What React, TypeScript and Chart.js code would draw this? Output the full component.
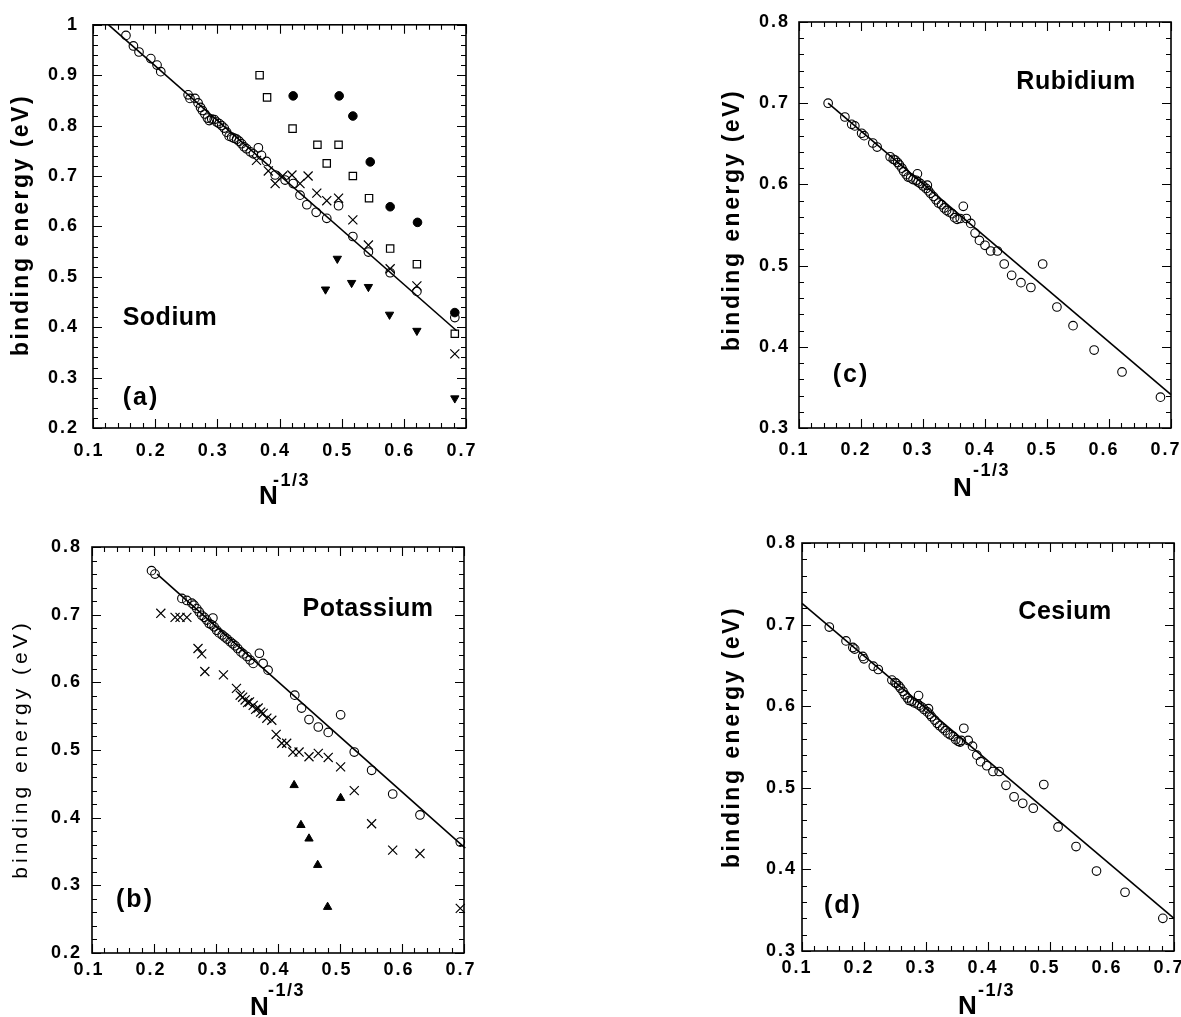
import React, { useEffect, useRef } from "react";
import { Chart, registerables } from "chart.js";

Chart.register(...registerables);

type Pt = [number, number];

// ---------- tick labels ----------
const xTickValues = [0.1, 0.2, 0.3, 0.4, 0.5, 0.6, 0.7];
const xTickLabels = ["0.1", "0.2", "0.3", "0.4", "0.5", "0.6", "0.7"];
const yTickValuesA = [0.2, 0.3, 0.4, 0.5, 0.6, 0.7, 0.8, 0.9, 1.0];
const yTickLabelsA = ["0.2", "0.3", "0.4", "0.5", "0.6", "0.7", "0.8", "0.9", "1"];
const yTickValuesB = [0.2, 0.3, 0.4, 0.5, 0.6, 0.7, 0.8];
const yTickLabelsB = ["0.2", "0.3", "0.4", "0.5", "0.6", "0.7", "0.8"];
const yTickValuesCD = [0.3, 0.4, 0.5, 0.6, 0.7, 0.8];
const yTickLabelsCD = ["0.3", "0.4", "0.5", "0.6", "0.7", "0.8"];

// ---------- (a) Sodium ----------
const sodiumCircles: Pt[] = [
  [0.153, 0.979], [0.165, 0.958], [0.174, 0.946], [0.193, 0.933], [0.203, 0.92], [0.209, 0.907],
  [0.253, 0.861], [0.256, 0.854], [0.264, 0.854],
  [0.269, 0.845], [0.273, 0.836], [0.276, 0.83], [0.28, 0.823], [0.284, 0.815], [0.287, 0.81],
  [0.291, 0.813], [0.295, 0.812], [0.299, 0.807], [0.303, 0.804], [0.307, 0.8], [0.311, 0.795],
  [0.315, 0.787], [0.319, 0.779], [0.323, 0.777], [0.327, 0.775], [0.331, 0.773], [0.335, 0.769],
  [0.339, 0.764], [0.343, 0.758], [0.347, 0.754], [0.353, 0.748], [0.358, 0.744],
  [0.366, 0.756], [0.371, 0.741], [0.379, 0.729], [0.393, 0.702], [0.409, 0.692], [0.422, 0.685],
  [0.433, 0.662], [0.444, 0.643], [0.459, 0.628], [0.476, 0.616], [0.495, 0.641], [0.518, 0.58],
  [0.543, 0.549], [0.578, 0.508], [0.621, 0.471], [0.682, 0.419],
];
const sodiumCrosses: Pt[] = [
  [0.363, 0.731], [0.382, 0.71], [0.393, 0.685], [0.405, 0.7], [0.42, 0.702], [0.433, 0.685],
  [0.446, 0.7], [0.46, 0.666], [0.476, 0.651], [0.495, 0.656], [0.518, 0.613], [0.543, 0.563],
  [0.578, 0.516], [0.621, 0.482], [0.682, 0.347],
];
const sodiumSquares: Pt[] = [
  [0.368, 0.9], [0.38, 0.856], [0.421, 0.794], [0.461, 0.762], [0.495, 0.762], [0.476, 0.725],
  [0.518, 0.7], [0.544, 0.656], [0.578, 0.556], [0.621, 0.525], [0.682, 0.387],
];
const sodiumDots: Pt[] = [
  [0.422, 0.859], [0.496, 0.859], [0.518, 0.819], [0.546, 0.728], [0.578, 0.639], [0.622, 0.608],
  [0.682, 0.429],
];
const sodiumTriangles: Pt[] = [
  [0.474, 0.475], [0.493, 0.536], [0.516, 0.488], [0.543, 0.48], [0.577, 0.425], [0.621, 0.393],
  [0.682, 0.259],
];
const sodiumFit: Pt[] = [[0.125, 1.0], [0.685, 0.393]];

// ---------- (b) Potassium ----------
const potassiumCircles: Pt[] = [
  [0.196, 0.765], [0.2016, 0.76], [0.245, 0.724], [0.253, 0.721], [0.261, 0.717],
  [0.2645, 0.714], [0.269, 0.709], [0.273, 0.704], [0.277, 0.699], [0.281, 0.696], [0.285, 0.692],
  [0.289, 0.687], [0.293, 0.685], [0.297, 0.682], [0.301, 0.677], [0.305, 0.673], [0.31, 0.67],
  [0.314, 0.667], [0.318, 0.664], [0.323, 0.66], [0.327, 0.657], [0.331, 0.654], [0.335, 0.65],
  [0.34, 0.645], [0.344, 0.642], [0.35, 0.638], [0.355, 0.633], [0.36, 0.628],
  [0.295, 0.695], [0.37, 0.643], [0.376, 0.628], [0.384, 0.618], [0.427, 0.581], [0.438, 0.562],
  [0.45, 0.545], [0.465, 0.534], [0.481, 0.526], [0.501, 0.552], [0.523, 0.497], [0.551, 0.47],
  [0.585, 0.435], [0.629, 0.404], [0.694, 0.364],
];
const potassiumCrosses: Pt[] = [
  [0.211, 0.702], [0.234, 0.696], [0.242, 0.696], [0.253, 0.696], [0.271, 0.65], [0.277, 0.642],
  [0.282, 0.616], [0.312, 0.611], [0.333, 0.591], [0.339, 0.581], [0.343, 0.578], [0.347, 0.574],
  [0.351, 0.57], [0.354, 0.571], [0.36, 0.566], [0.364, 0.56], [0.368, 0.562], [0.372, 0.556],
  [0.376, 0.554], [0.382, 0.547], [0.39, 0.544], [0.397, 0.523], [0.406, 0.51], [0.414, 0.51],
  [0.424, 0.497], [0.434, 0.497], [0.45, 0.49], [0.465, 0.495], [0.481, 0.489], [0.501, 0.475],
  [0.523, 0.44], [0.551, 0.391], [0.585, 0.352], [0.629, 0.347], [0.694, 0.266],
];
const potassiumTriangles: Pt[] = [
  [0.426, 0.448], [0.501, 0.429], [0.437, 0.389], [0.45, 0.369], [0.464, 0.33], [0.48, 0.268],
];
const potassiumFit: Pt[] = [[0.205, 0.76], [0.702, 0.355]];

// ---------- (c) Rubidium ----------
const rubidiumCircles: Pt[] = [
  [0.147, 0.7], [0.174, 0.683], [0.185, 0.674], [0.19, 0.672], [0.201, 0.663], [0.205, 0.66],
  [0.219, 0.651], [0.226, 0.646], [0.247, 0.634], [0.252, 0.631],
  [0.255, 0.63], [0.259, 0.627], [0.262, 0.624], [0.266, 0.62], [0.269, 0.616], [0.273, 0.612],
  [0.276, 0.609], [0.28, 0.608], [0.284, 0.606], [0.289, 0.605], [0.292, 0.603], [0.296, 0.601],
  [0.3, 0.598], [0.305, 0.595], [0.309, 0.592], [0.312, 0.589], [0.317, 0.585], [0.321, 0.581],
  [0.325, 0.577], [0.33, 0.575], [0.334, 0.571], [0.338, 0.568], [0.342, 0.566], [0.347, 0.564],
  [0.351, 0.559], [0.355, 0.557], [0.36, 0.558],
  [0.291, 0.613], [0.307, 0.599], [0.365, 0.573], [0.37, 0.558], [0.377, 0.552], [0.384, 0.54],
  [0.391, 0.531], [0.4, 0.525], [0.409, 0.518], [0.42, 0.518], [0.431, 0.502], [0.443, 0.488],
  [0.458, 0.479], [0.474, 0.473], [0.493, 0.502], [0.516, 0.449], [0.542, 0.426], [0.576, 0.396],
  [0.621, 0.369], [0.683, 0.338],
];
const rubidiumFit: Pt[] = [[0.147, 0.7], [0.7, 0.341]];

// ---------- (d) Cesium ----------
const cesiumCircles: Pt[] = [
  [0.144, 0.697], [0.171, 0.68], [0.182, 0.672], [0.185, 0.67], [0.198, 0.661], [0.2, 0.658],
  [0.215, 0.649], [0.223, 0.645], [0.245, 0.632], [0.25, 0.629],
  [0.252, 0.628], [0.256, 0.625], [0.259, 0.622], [0.263, 0.618], [0.266, 0.614], [0.27, 0.61],
  [0.273, 0.607], [0.277, 0.606], [0.281, 0.604], [0.286, 0.603], [0.289, 0.601], [0.293, 0.599],
  [0.297, 0.596], [0.302, 0.593], [0.306, 0.59], [0.309, 0.587], [0.314, 0.583], [0.318, 0.579],
  [0.322, 0.576], [0.327, 0.573], [0.331, 0.57], [0.335, 0.567], [0.339, 0.565], [0.344, 0.563],
  [0.348, 0.559], [0.352, 0.557], [0.357, 0.558],
  [0.288, 0.613], [0.304, 0.597], [0.361, 0.573], [0.355, 0.556], [0.368, 0.558], [0.375, 0.551],
  [0.382, 0.54], [0.388, 0.532], [0.398, 0.527], [0.408, 0.52], [0.418, 0.52], [0.429, 0.503],
  [0.442, 0.489], [0.456, 0.481], [0.473, 0.475], [0.49, 0.504], [0.513, 0.452], [0.542, 0.428],
  [0.575, 0.398], [0.621, 0.372], [0.682, 0.34],
];
const cesiumFit: Pt[] = [[0.1, 0.726], [0.7, 0.34]];

// ---------- styling helpers ----------
const FAMILY = '"Liberation Sans", Arial, Helvetica, sans-serif';
const toXY = (pts: Pt[]) => pts.map(([x, y]) => ({ x, y }));

const openCircles = (pts: Pt[]) => ({
  data: toXY(pts), pointStyle: "circle", pointRadius: 4.3, pointBorderWidth: 1.1,
  borderColor: "#000", backgroundColor: "rgba(0,0,0,0)", showLine: false,
});
const crosses = (pts: Pt[]) => ({
  data: toXY(pts), pointStyle: "crossRot", pointRadius: 6.4, pointBorderWidth: 1.2,
  borderColor: "#000", backgroundColor: "#000", showLine: false,
});
const squares = (pts: Pt[]) => ({
  data: toXY(pts), pointStyle: "rect", pointRadius: 5.2, pointBorderWidth: 1.2,
  borderColor: "#000", backgroundColor: "rgba(0,0,0,0)", showLine: false,
});
const dots = (pts: Pt[]) => ({
  data: toXY(pts), pointStyle: "circle", pointRadius: 4.3, pointBorderWidth: 1,
  borderColor: "#000", backgroundColor: "#000", showLine: false,
});
const triangles = (pts: Pt[], down: boolean) => ({
  data: toXY(pts), pointStyle: "triangle", pointRotation: down ? 180 : 0, pointRadius: 4.8,
  pointBorderWidth: 1, borderColor: "#000", backgroundColor: "#000", showLine: false,
});
const fitLine = (pts: Pt[]) => ({
  data: toXY(pts), showLine: true, pointRadius: 0, borderColor: "#000", borderWidth: 1.6,
  backgroundColor: "#000", fill: false,
});

interface Spec {
  key: string;
  box: { left: number; top: number; width: number; height: number };
  plot: { x0: number; x1: number; y0: number; y1: number };
  yMin: number; yMax: number; yTicks: number[]; yLabels: string[];
  yTickPad: number; xTickPad: number; xLabelShift: number;
  datasets: any[];
  name: string; nameAt: [number, number];
  tag: string; tagAt: [number, number];
  yTitle: { x: number; y: number; font: string; spacing: number };
  nAt: [number, number]; supAt: [number, number];
}

const specs: Spec[] = [
  {
    key: "a",
    box: { left: 0, top: 0, width: 500, height: 520 },
    plot: { x0: 93, x1: 466, y0: 22, y1: 428 },
    yMin: 0.2, yMax: 1.0, yTicks: yTickValuesA, yLabels: yTickLabelsA,
    yTickPad: 14, xTickPad: 12, xLabelShift: -4,
    datasets: [
      triangles(sodiumTriangles, true), dots(sodiumDots), squares(sodiumSquares),
      crosses(sodiumCrosses), openCircles(sodiumCircles), fitLine(sodiumFit),
    ],
    name: "Sodium", nameAt: [170, 318], tag: "(a)", tagAt: [141, 398],
    yTitle: { x: 22, y: 225, font: `bold 23px ${FAMILY}`, spacing: 2.5 },
    nAt: [259, 497], supAt: [273, 481],
  },
  {
    key: "b",
    box: { left: 0, top: 520, width: 500, height: 497 },
    plot: { x0: 92, x1: 464, y0: 547, y1: 953 },
    yMin: 0.2, yMax: 0.8, yTicks: yTickValuesB, yLabels: yTickLabelsB,
    yTickPad: 10, xTickPad: 6, xLabelShift: -3,
    datasets: [
      triangles(potassiumTriangles, false), crosses(potassiumCrosses),
      openCircles(potassiumCircles), fitLine(potassiumFit),
    ],
    name: "Potassium", nameAt: [368, 609], tag: "(b)", tagAt: [135, 900],
    yTitle: { x: 21, y: 749, font: `21px ${FAMILY}`, spacing: 4 },
    nAt: [250, 1008], supAt: [268, 991],
  },
  {
    key: "c",
    box: { left: 700, top: 0, width: 500, height: 520 },
    plot: { x0: 799, x1: 1171, y0: 22, y1: 428 },
    yMin: 0.3, yMax: 0.8, yTicks: yTickValuesCD, yLabels: yTickLabelsCD,
    yTickPad: 9, xTickPad: 11, xLabelShift: -5,
    datasets: [openCircles(rubidiumCircles), fitLine(rubidiumFit)],
    name: "Rubidium", nameAt: [1076, 82], tag: "(c)", tagAt: [851, 375],
    yTitle: { x: 733, y: 220, font: `bold 23px ${FAMILY}`, spacing: 2.5 },
    nAt: [953, 489], supAt: [973, 471],
  },
  {
    key: "d",
    box: { left: 700, top: 520, width: 500, height: 497 },
    plot: { x0: 802, x1: 1174, y0: 543, y1: 951 },
    yMin: 0.3, yMax: 0.8, yTicks: yTickValuesCD, yLabels: yTickLabelsCD,
    yTickPad: 5, xTickPad: 6, xLabelShift: -5,
    datasets: [openCircles(cesiumCircles), fitLine(cesiumFit)],
    name: "Cesium", nameAt: [1065, 612], tag: "(d)", tagAt: [843, 906],
    yTitle: { x: 733, y: 737, font: `bold 23px ${FAMILY}`, spacing: 2.5 },
    nAt: [958, 1007], supAt: [978, 991],
  },
];

function buildConfig(s: Spec): any {
  const { box, plot } = s;
  const decor = {
    id: "decor_" + s.key,
    beforeDraw(chart: any) {
      const ctx = chart.ctx as any;
      ctx.letterSpacing = "2px";
    },
    afterDraw(chart: any) {
      const ctx = chart.ctx as any;
      const { left, right, top, bottom } = chart.chartArea;
      const xs = chart.scales.x;
      const ys = chart.scales.y;
      ctx.save();
      ctx.letterSpacing = "0px";
      ctx.strokeStyle = "#000";
      ctx.lineWidth = 1.1;
      ctx.beginPath();
      for (let i = 0; ; i++) {
        const v = 0.1 + i * 0.02;
        if (v > 0.7 + 1e-9) break;
        const px = Math.round(xs.getPixelForValue(v)) + 0.5;
        const L = i % 5 === 0 ? 9 : 5;
        ctx.moveTo(px, bottom); ctx.lineTo(px, bottom - L);
        ctx.moveTo(px, top); ctx.lineTo(px, top + L);
      }
      for (let i = 0; ; i++) {
        const v = s.yMin + i * 0.02;
        if (v > s.yMax + 1e-9) break;
        const py = Math.round(ys.getPixelForValue(v)) + 0.5;
        const L = i % 5 === 0 ? 9 : 5;
        ctx.moveTo(left, py); ctx.lineTo(left + L, py);
        ctx.moveTo(right, py); ctx.lineTo(right - L, py);
      }
      ctx.stroke();
      ctx.lineWidth = 1.6;
      ctx.strokeRect(left, top, right - left, bottom - top);

      const ox = box.left, oy = box.top;
      ctx.fillStyle = "#000";
      ctx.textBaseline = "middle";
      // element name
      ctx.letterSpacing = "0.5px";
      ctx.textAlign = "center";
      ctx.font = `bold 25px ${FAMILY}`;
      ctx.fillText(s.name, s.nameAt[0] - ox, s.nameAt[1] - oy);
      // panel tag
      ctx.letterSpacing = "2px";
      ctx.fillText(s.tag, s.tagAt[0] - ox, s.tagAt[1] - oy);
      // x title N^-1/3
      ctx.textAlign = "left";
      ctx.letterSpacing = "0px";
      ctx.font = `bold 26px ${FAMILY}`;
      ctx.fillText("N", s.nAt[0] - ox, s.nAt[1] - oy);
      ctx.letterSpacing = "1.5px";
      ctx.font = `bold 18px ${FAMILY}`;
      ctx.fillText("-1/3", s.supAt[0] - ox, s.supAt[1] - oy);
      // y title
      ctx.save();
      ctx.translate(s.yTitle.x - ox, s.yTitle.y - oy);
      ctx.rotate(-Math.PI / 2);
      ctx.textAlign = "center";
      ctx.font = s.yTitle.font;
      ctx.letterSpacing = s.yTitle.spacing + "px";
      ctx.fillText("binding energy (eV)", 0, 0);
      ctx.restore();
      ctx.restore();
    },
  };

  const tickFont = { family: FAMILY, size: 18, weight: "bold" as const };
  return {
    type: "scatter",
    data: { datasets: s.datasets.map((d) => ({ ...d, clip: false })) },
    options: {
      responsive: false,
      animation: false,
      events: [],
      layout: {
        padding: {
          left: 0,
          top: plot.y0 - box.top,
          right: box.left + box.width - plot.x1,
          bottom: 0,
        },
      },
      plugins: { legend: { display: false }, tooltip: { enabled: false }, title: { display: false } },
      scales: {
        x: {
          type: "linear",
          min: 0.1,
          max: 0.7,
          grid: { display: false, drawTicks: false, tickLength: 0 },
          border: { display: false },
          ticks: {
            font: tickFont,
            color: "#000",
            padding: s.xTickPad,
            labelOffset: s.xLabelShift,
            maxRotation: 0,
            autoSkip: false,
            callback: (_v: any, i: number) => xTickLabels[i],
          },
          afterBuildTicks: (scale: any) => {
            scale.ticks = xTickValues.map((v) => ({ value: v }));
          },
          afterFit: (scale: any) => {
            scale.height = box.top + box.height - plot.y1;
          },
        },
        y: {
          type: "linear",
          min: s.yMin,
          max: s.yMax,
          grid: { display: false, drawTicks: false, tickLength: 0 },
          border: { display: false },
          ticks: {
            font: tickFont,
            color: "#000",
            padding: s.yTickPad,
            autoSkip: false,
            callback: (_v: any, i: number) => s.yLabels[i],
          },
          afterBuildTicks: (scale: any) => {
            scale.ticks = s.yTicks.map((v) => ({ value: v }));
          },
          afterFit: (scale: any) => {
            scale.width = plot.x0 - box.left;
          },
        },
      },
    },
    plugins: [decor],
  };
}

function Panel({ spec }: { spec: Spec }) {
  const ref = useRef<HTMLCanvasElement>(null);
  useEffect(() => {
    const canvas = ref.current;
    if (!canvas) return;
    const chart = new Chart(canvas, buildConfig(spec));
    return () => chart.destroy();
  }, [spec]);
  const { left, top, width, height } = spec.box;
  return (
    <canvas
      ref={ref}
      width={width}
      height={height}
      style={{ position: "absolute", left, top, width, height }}
    />
  );
}

export default function App() {
  return (
    <div
      style={{
        position: "absolute",
        left: 0,
        top: 0,
        width: 1181,
        height: 1017,
        overflow: "hidden",
        background: "#fff",
      }}
    >
      {specs.map((s) => (
        <Panel key={s.key} spec={s} />
      ))}
    </div>
  );
}
